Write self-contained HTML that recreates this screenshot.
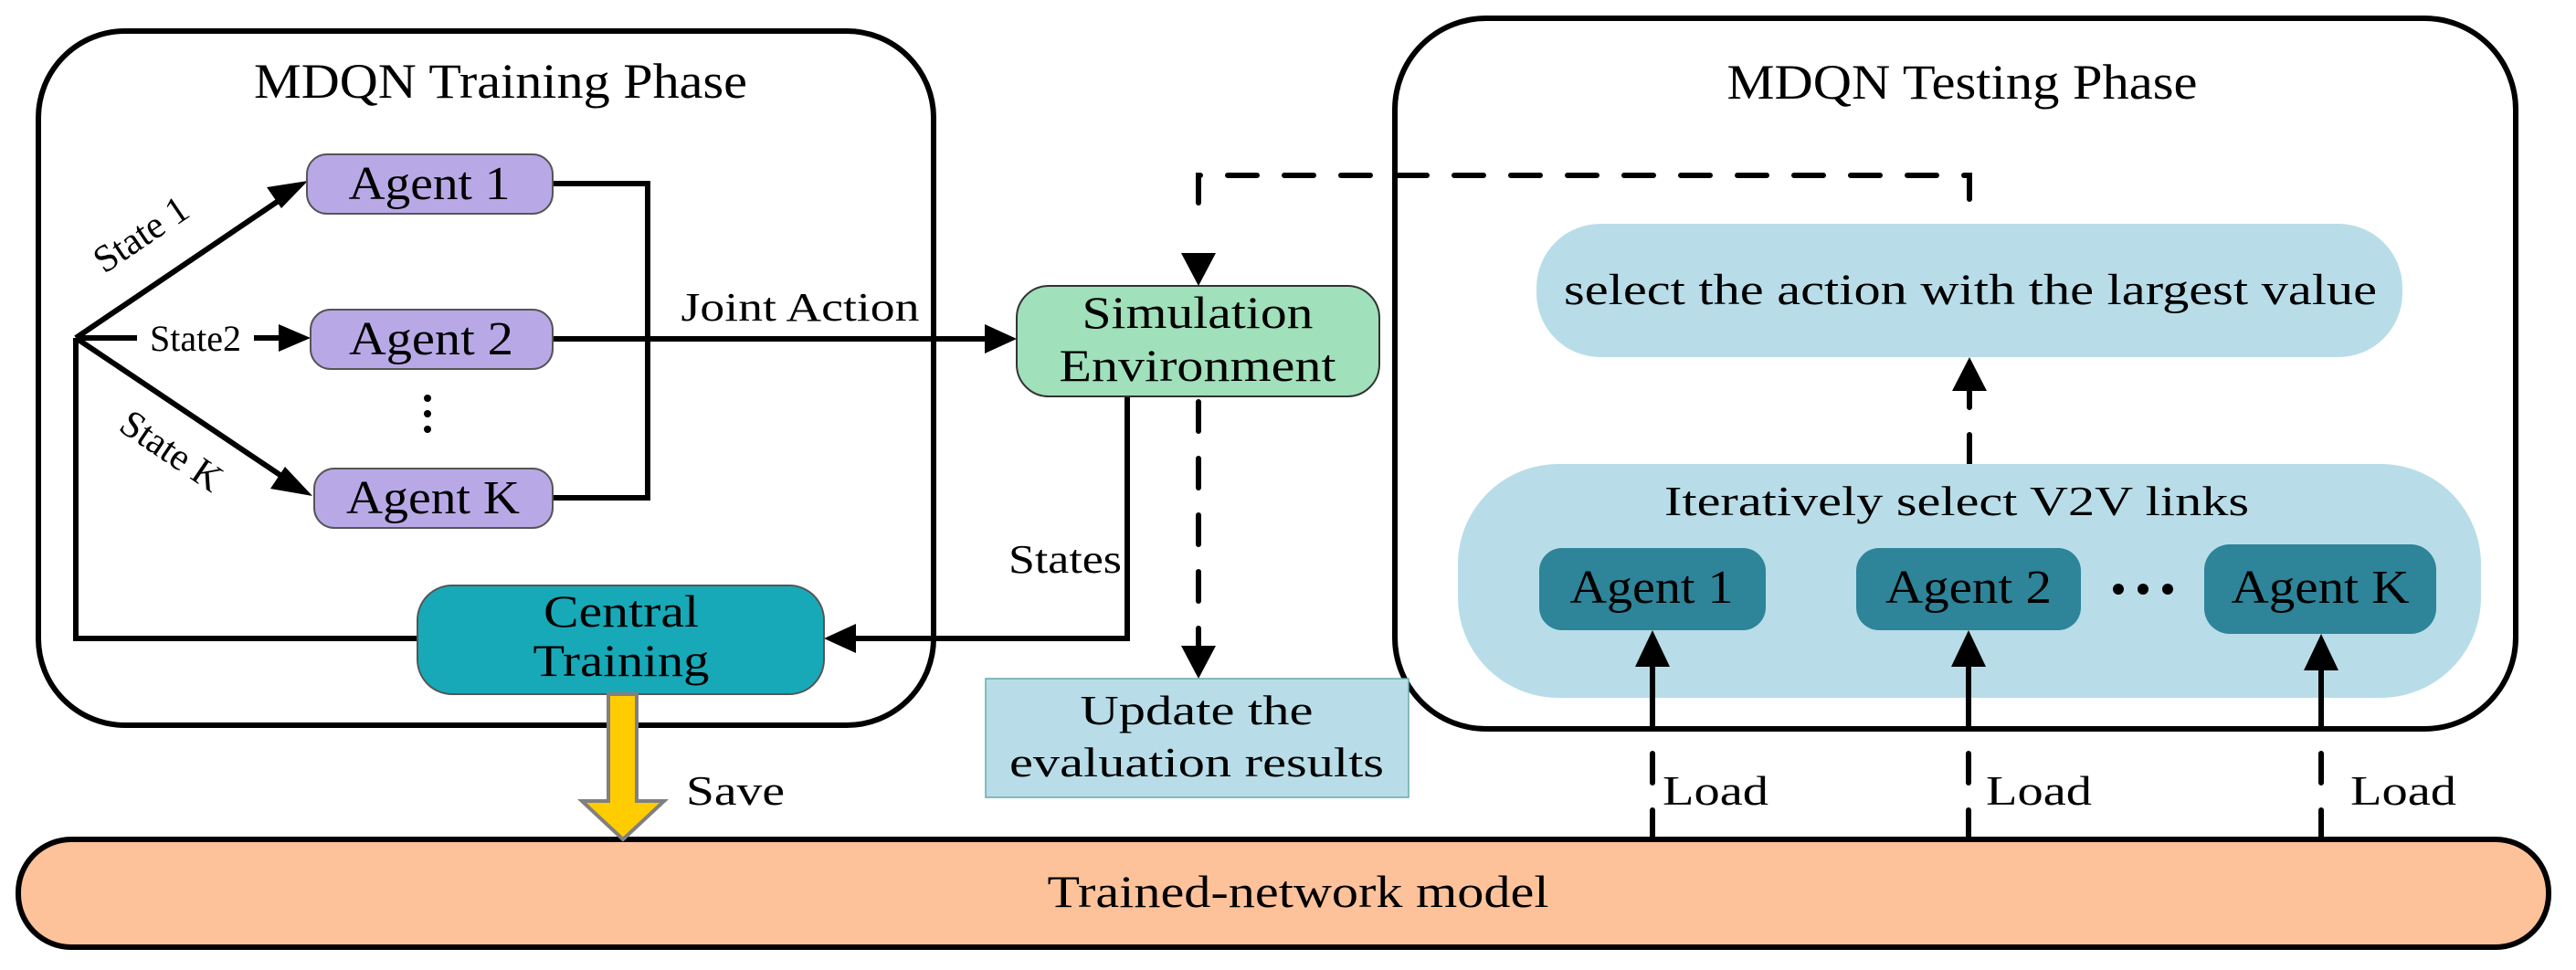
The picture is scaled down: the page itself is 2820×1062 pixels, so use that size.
<!DOCTYPE html>
<html><head><meta charset="utf-8"><style>
html,body{margin:0;padding:0;background:#fff;}
svg{display:block;}
svg text{font-family:"Liberation Serif","Times New Roman",serif;fill:#000;}
</style></head><body>
<svg width="2820" height="1062" viewBox="0 0 2820 1062" xmlns="http://www.w3.org/2000/svg" font-family="Liberation Serif, Times New Roman, serif">
<rect x="42" y="34" width="980" height="760" rx="95" fill="none" stroke="#000" stroke-width="6"/>
<text x="548" y="107" font-size="54" text-anchor="middle" textLength="540" lengthAdjust="spacingAndGlyphs">MDQN Training Phase</text>

<rect x="1527" y="20" width="1227" height="778" rx="100" fill="none" stroke="#000" stroke-width="6"/>
<text x="2148" y="108" font-size="54" text-anchor="middle" textLength="515" lengthAdjust="spacingAndGlyphs">MDQN Testing Phase</text>

<g stroke="#000" stroke-width="6" fill="none">
<line x1="83" y1="370" x2="315" y2="213"/>
<line x1="83" y1="370" x2="318" y2="370"/>
<line x1="83" y1="370" x2="320" y2="529"/>
<polyline points="83,370 83,699 457,699"/>
<polyline points="605,201 709,201 709,545 605,545"/>
<line x1="605" y1="371" x2="1085" y2="371"/>
<polyline points="1234,434 1234,699 930,699"/>
</g>
<polygon points="337,198 308,228 292,205" fill="#000"/>
<polygon points="340,370 305,355 305,385" fill="#000"/>
<polygon points="342,543 296,535 312,511" fill="#000"/>
<polygon points="1113,371 1078,355 1078,387" fill="#000"/>
<polygon points="902,699 937,683 937,715" fill="#000"/>

<rect x="150" y="350" width="128" height="40" fill="#fff"/>
<text x="214" y="384" font-size="40" text-anchor="middle">State2</text>
<text transform="translate(162,268) rotate(-34)" font-size="42" text-anchor="middle">State 1</text>
<text transform="translate(180,505) rotate(34)" font-size="42" text-anchor="middle">State K</text>

<g stroke="#555" stroke-width="2" fill="#b8a9e6">
<rect x="336" y="169" width="269" height="65" rx="22"/>
<rect x="340" y="339" width="265" height="65" rx="22"/>
<rect x="344" y="513" width="261" height="65" rx="22"/>
</g>
<text x="470" y="218" font-size="52" text-anchor="middle" textLength="177" lengthAdjust="spacingAndGlyphs">Agent 1</text>
<text x="472" y="388" font-size="52" text-anchor="middle" textLength="180" lengthAdjust="spacingAndGlyphs">Agent 2</text>
<text x="474" y="562" font-size="52" text-anchor="middle" textLength="190" lengthAdjust="spacingAndGlyphs">Agent K</text>
<circle cx="468" cy="436" r="4"/><circle cx="468" cy="453" r="4"/><circle cx="468" cy="470" r="4"/>

<text x="876" y="351" font-size="44" text-anchor="middle" textLength="261" lengthAdjust="spacingAndGlyphs">Joint Action</text>
<text x="1166" y="627" font-size="44" text-anchor="middle" textLength="124" lengthAdjust="spacingAndGlyphs">States</text>

<rect x="457" y="641" width="445" height="119" rx="38" fill="#17a9b8" stroke="#555" stroke-width="2"/>
<text x="680" y="686" font-size="50" text-anchor="middle" textLength="170" lengthAdjust="spacingAndGlyphs">Central</text>
<text x="680" y="740" font-size="50" text-anchor="middle" textLength="193" lengthAdjust="spacingAndGlyphs">Training</text>

<rect x="1113" y="313" width="397" height="121" rx="35" fill="#a0e0bb" stroke="#333" stroke-width="2"/>
<text x="1311" y="359" font-size="50" text-anchor="middle" textLength="253" lengthAdjust="spacingAndGlyphs">Simulation</text>
<text x="1311" y="417" font-size="50" text-anchor="middle" textLength="303" lengthAdjust="spacingAndGlyphs">Environment</text>

<g stroke="#000" stroke-width="6" fill="none" stroke-dasharray="32,30" stroke-linecap="round">
<polyline points="1312,222 1312,192 2156,192 2156,245"/>
<line x1="1312" y1="440" x2="1312" y2="710"/>
<line x1="2156" y1="508" x2="2156" y2="420"/>
<line x1="1809" y1="919" x2="1809" y2="780"/>
<line x1="2155" y1="919" x2="2155" y2="780"/>
<line x1="2541" y1="919" x2="2541" y2="780"/>
</g>
<polygon points="1312,313 1293,277 1331,277" fill="#000"/>
<polygon points="1312,743 1293,707 1331,707" fill="#000"/>

<rect x="1079" y="743" width="463" height="130" fill="#b8dde8" stroke="#6aa" stroke-width="1.5"/>
<text x="1310" y="793" font-size="46" text-anchor="middle" textLength="255" lengthAdjust="spacingAndGlyphs">Update the</text>
<text x="1310" y="850" font-size="46" text-anchor="middle" textLength="410" lengthAdjust="spacingAndGlyphs">evaluation results</text>

<rect x="1682" y="245" width="948" height="146" rx="70" fill="#b8dde8"/>
<text x="2157" y="333" font-size="48" text-anchor="middle" textLength="890" lengthAdjust="spacingAndGlyphs">select the action with the largest value</text>
<polygon points="2156,391 2137,428 2175,428" fill="#000"/>

<rect x="1596" y="508" width="1120" height="256" rx="110" fill="#b8dde8"/>
<text x="2142" y="564" font-size="46" text-anchor="middle" textLength="640" lengthAdjust="spacingAndGlyphs">Iteratively select V2V links</text>
<g fill="#2e8499">
<rect x="1685" y="600" width="248" height="90" rx="25"/>
<rect x="2032" y="600" width="246" height="90" rx="25"/>
<rect x="2413" y="596" width="254" height="98" rx="28"/>
</g>
<text x="1808" y="660" font-size="52" text-anchor="middle" textLength="179" lengthAdjust="spacingAndGlyphs">Agent 1</text>
<text x="2155" y="660" font-size="52" text-anchor="middle" textLength="182" lengthAdjust="spacingAndGlyphs">Agent 2</text>
<text x="2540" y="660" font-size="52" text-anchor="middle" textLength="195" lengthAdjust="spacingAndGlyphs">Agent K</text>
<circle cx="2319" cy="645" r="6"/><circle cx="2346" cy="645" r="6"/><circle cx="2373" cy="645" r="6"/>

<g stroke="#000" stroke-width="6">
<line x1="1809" y1="779" x2="1809" y2="720"/>
<line x1="2155" y1="779" x2="2155" y2="720"/>
<line x1="2541" y1="779" x2="2541" y2="720"/>
</g>
<polygon points="1809,690 1790,730 1828,730" fill="#000"/>
<polygon points="2155,690 2136,730 2174,730" fill="#000"/>
<polygon points="2541,694 2522,734 2560,734" fill="#000"/>
<text x="1820" y="881" font-size="46" textLength="116" lengthAdjust="spacingAndGlyphs">Load</text>
<text x="2174" y="881" font-size="46" textLength="116" lengthAdjust="spacingAndGlyphs">Load</text>
<text x="2573" y="881" font-size="46" textLength="116" lengthAdjust="spacingAndGlyphs">Load</text>

<rect x="20" y="919" width="2770" height="118" rx="58" fill="#fec29a" stroke="#000" stroke-width="6"/>
<text x="1421" y="993" font-size="50" text-anchor="middle" textLength="549" lengthAdjust="spacingAndGlyphs">Trained-network model</text>

<polygon points="666,760 697,760 697,877 727,877 682,919 637,877 666,877" fill="#ffcc00" stroke="#808080" stroke-width="4" stroke-linejoin="miter"/>
<text x="751" y="881" font-size="46" textLength="108" lengthAdjust="spacingAndGlyphs">Save</text>
</svg>
</body></html>
